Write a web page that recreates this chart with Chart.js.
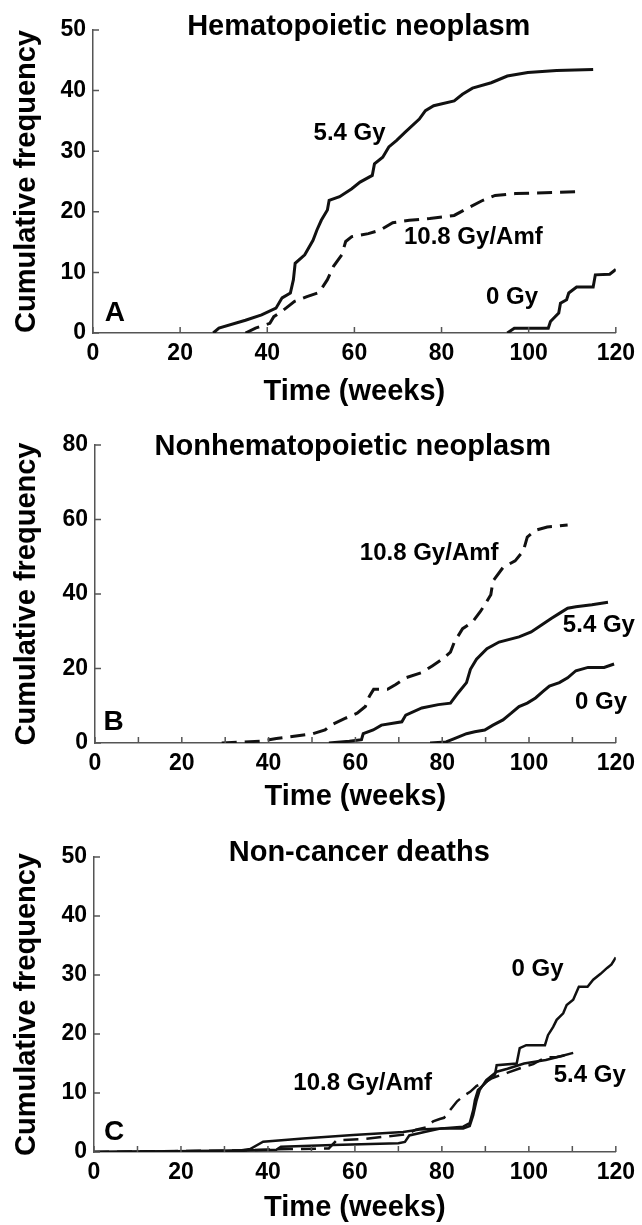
<!DOCTYPE html>
<html>
<head>
<meta charset="utf-8">
<title>Cumulative frequency</title>
<script src="https://cdn.jsdelivr.net/npm/chart.js@4.4.1/dist/chart.umd.min.js"></script>
<style>
  body { margin: 0; background: #fff; width: 642px; height: 1225px; position: relative; overflow: hidden; }
  canvas { position: absolute; left: 0; }
</style>
</head>
<body>
<canvas id="chartA" width="642" height="410" style="top:0px"></canvas>
<canvas id="chartB" width="642" height="410" style="top:410px"></canvas>
<canvas id="chartC" width="642" height="405" style="top:820px"></canvas>
<script>
// ---- data (weeks, cumulative frequency) ----

// A: Hematopoietic neoplasm
const weeksA54 = [27.6, 28.9, 35, 38.7, 42, 43.4, 45.3, 46, 46.4, 48.6, 50.5, 51.4, 52.4, 53.8, 54.2, 56.6, 59.4, 61.3, 64.1, 64.6, 66.5, 67.9, 69.7, 71.6, 74.9, 76.3, 78.2, 82.9, 84.8, 87.1, 91.4, 95.1, 99.8, 106.4, 114.8];
const freqA54  = [0, 0.8, 2.1, 3.0, 4.1, 5.8, 6.6, 8.8, 11.5, 12.9, 15.3, 17, 18.6, 20.3, 21.9, 22.5, 23.8, 24.9, 26, 27.9, 29, 30.7, 31.8, 33.1, 35.3, 36.7, 37.5, 38.3, 39.4, 40.4, 41.3, 42.4, 43, 43.3, 43.5];
const weeksA108 = [35, 37.3, 40.6, 41.5, 43.4, 44.8, 46.2, 49.1, 51.9, 53.8, 55.2, 57.1, 58, 59.4, 63.2, 66, 68.8, 72.6, 77.3, 82.9, 85.7, 89.5, 92.3, 97, 111.1];
const freqA108  = [0, 0.8, 1.6, 2.7, 3.6, 4.4, 5.2, 6, 6.7, 8.8, 11, 12.9, 15.1, 15.9, 16.4, 17, 18.2, 18.6, 18.9, 19.4, 20.5, 21.9, 22.7, 23, 23.3];
const weeksA0 = [95.1, 96.7, 104.5, 105, 106.9, 107.3, 108.7, 109.2, 111, 114.8, 115.3, 118.6, 120];
const freqA0  = [0, 0.8, 0.8, 1.9, 3.3, 4.9, 5.5, 6.6, 7.6, 7.6, 9.6, 9.7, 10.5];

// B: Nonhematopoietic neoplasm
const weeksB108 = [29.2, 38, 41.8, 50.2, 53, 54.3, 57.6, 60.4, 62.3, 63.2, 64.2, 67.4, 69.3, 71.6, 75.3, 77.7, 80, 81.9, 82.8, 84.7, 87, 88.8, 89.8, 91.2, 91.7, 94, 96.8, 98.7, 99.6, 101.5, 104.2, 108.9];
const freqB108  = [0, 0.5, 1.2, 2.5, 3.5, 4.8, 6.6, 8, 9.8, 12.5, 14.4, 14.4, 15.7, 17.5, 18.9, 20.7, 22.5, 24.4, 27.1, 30.7, 32.5, 35.3, 37.1, 39.8, 43.5, 47.1, 48.9, 51.6, 55.3, 57.1, 58, 58.5];
const weeksB54 = [53.9, 58.6, 61.4, 61.8, 64.1, 66, 70.7, 71.6, 75.3, 79.1, 81.9, 83.7, 85.6, 86.5, 87.9, 90.3, 93.1, 97.7, 100.5, 102.8, 105.2, 107, 108.9, 110.8, 114.5, 118.2];
const freqB54  = [0, 0.5, 0.9, 2.5, 3.5, 4.8, 5.7, 7.5, 9.4, 10.3, 10.7, 13.5, 16.2, 19.8, 22.5, 25.3, 27.1, 28.5, 29.8, 31.6, 33.5, 34.8, 36.2, 36.6, 37.1, 37.8];
const weeksB0 = [77.2, 80.9, 82.8, 85.6, 87.5, 89.8, 91.7, 94, 95.9, 97.7, 99.6, 101.5, 103.3, 104.7, 107, 108.9, 110.8, 113.6, 117.3, 119.6];
const freqB0  = [0, 0.3, 1.2, 2.5, 3, 3.5, 4.8, 6.2, 8, 9.8, 10.7, 12.1, 13.9, 15.3, 16.2, 17.5, 19.4, 20.3, 20.3, 21.2];

// C: Non-cancer deaths
const weeksC0 = [0, 34, 36, 42, 43, 55, 70, 71.5, 72.5, 76, 79.9, 84.9, 86.4, 87.2, 87.6, 88.3, 89.9, 91.4, 92.2, 92.6, 97.2, 97.9, 99.4, 103.7, 104.4, 105.6, 106.4, 107.9, 108.7, 110.2, 111.5, 113.5, 114.8, 116.5, 118, 119, 120];
const freqC0  = [0, 0.2, 0.3, 0.4, 0.9, 1.2, 1.5, 1.7, 2.8, 3.4, 4.0, 4.3, 4.9, 7.1, 8.8, 10.5, 11.6, 12.8, 13.1, 14.7, 15, 17.6, 18.1, 18.1, 19.8, 21.2, 22.4, 23.5, 24.9, 25.8, 28, 28, 29.2, 30.2, 31.2, 31.8, 33];
const weeksC54 = [0, 30, 34, 35.9, 38.9, 48.1, 59.6, 71.1, 74.9, 80, 84.9, 86.4, 87.2, 88, 88.7, 90.2, 92.6, 95.1, 98.9, 103.9, 107.1, 110.2];
const freqC54  = [0, 0.2, 0.3, 0.5, 1.75, 2.3, 2.9, 3.4, 3.8, 4.0, 4.0, 4.4, 6.2, 8.8, 10.5, 12.2, 13.6, 14.1, 15, 15.6, 16.2, 16.8];
const weeksC108 = [0, 35, 45, 54, 55.8, 62, 67, 72, 74, 76.5, 78, 79.5, 80.5, 82, 83.5, 85, 86.5, 88, 90, 91.5, 93, 95, 98, 101, 103.7, 106.4, 110];
const freqC108  = [0, 0.3, 0.5, 0.6, 2.0, 2.2, 2.6, 3.0, 3.8, 4.2, 5.2, 5.6, 5.8, 7.2, 8.6, 9.5, 10.2, 11.2, 11.8, 12.5, 12.9, 13.4, 14.2, 14.9, 16, 16.1, 16.6];

const FONT = "'Liberation Sans', Arial, sans-serif";
const AXIS_COLOR = '#555';

// inward tick marks, panel titles and curve labels
const panelDecor = {
    id: 'panelDecor',
    afterDraw(chart, args, opts) {
        const { ctx, scales: { x, y } } = chart;
        ctx.save();
        ctx.strokeStyle = AXIS_COLOR;
        ctx.lineWidth = 1.5;
        ctx.beginPath();
        x.ticks.forEach(t => {
            const px = x.getPixelForValue(t.value);
            ctx.moveTo(px, y.bottom);
            ctx.lineTo(px, y.bottom - 6);
        });
        y.ticks.forEach(t => {
            const py = y.getPixelForValue(t.value);
            ctx.moveTo(x.left, py);
            ctx.lineTo(x.left + 6, py);
        });
        ctx.stroke();

        ctx.fillStyle = '#000';
        ctx.textAlign = 'center';
        ctx.textBaseline = 'middle';
        opts.texts.forEach(t => {
            ctx.font = `bold ${t.size}px ${FONT}`;
            ctx.fillText(t.text, x.getPixelForValue(t.x), y.getPixelForValue(t.y));
        });
        ctx.restore();
    }
};

function makePanel(canvasId, p) {
    const ctx = document.getElementById(canvasId).getContext('2d');
    return new Chart(ctx, {
        type: 'line',
        data: {
            datasets: p.series.map(s => ({
                data: s.weeks.map((w, i) => ({ x: w, y: s.freq[i] })),
                borderColor: '#111',
                borderWidth: p.lineWidth,
                borderDash: s.dashed ? [15, 8] : [],
                pointRadius: 0,
                fill: false,
                tension: 0
            }))
        },
        options: {
            responsive: false,
            animation: false,
            layout: { padding: { top: p.padTop, right: p.padRight, left: 0, bottom: 0 } },
            plugins: {
                legend: { display: false },
                tooltip: { enabled: false },
                panelDecor: { texts: p.texts }
            },
            scales: {
                x: {
                    type: 'linear',
                    min: 0,
                    max: 120,
                    afterFit: s => { s.height = p.xHeight; },
                    grid: { drawOnChartArea: false, drawTicks: false },
                    border: { color: AXIS_COLOR, width: 1.5 },
                    ticks: {
                        stepSize: p.xStep,
                        autoSkip: false,
                        maxRotation: 0,
                        padding: 7,
                        color: '#000',
                        font: { family: FONT, size: 23, weight: 'bold' },
                        callback: v => (v % 20 === 0 ? v : '')
                    },
                    title: {
                        display: true,
                        text: 'Time (weeks)',
                        color: '#000',
                        font: { family: FONT, size: 29, weight: 'bold' },
                        padding: { top: 0, bottom: p.xTitlePad }
                    }
                },
                y: {
                    min: 0,
                    max: p.yMax,
                    afterFit: s => { s.width = p.yWidth; },
                    grid: { drawOnChartArea: false, drawTicks: false },
                    border: { color: AXIS_COLOR, width: 1.5 },
                    ticks: {
                        stepSize: p.yStep,
                        padding: 7,
                        color: '#000',
                        font: { family: FONT, size: 23, weight: 'bold' }
                    },
                    title: {
                        display: true,
                        text: 'Cumulative frequency',
                        color: '#000',
                        font: { family: FONT, size: 29, weight: 'bold' },
                        padding: { top: 10, bottom: 0 }
                    }
                }
            }
        },
        plugins: [panelDecor]
    });
}

makePanel('chartA', {
    yMax: 50, yStep: 10, xStep: 20,
    padTop: 30, padRight: 25, yWidth: 93, xHeight: 77, xTitlePad: 1,
    lineWidth: 3,
    series: [
        { weeks: weeksA54, freq: freqA54 },
        { weeks: weeksA108, freq: freqA108, dashed: true },
        { weeks: weeksA0, freq: freqA0 }
    ],
    texts: [
        { text: 'Hematopoietic neoplasm', x: 61, y: 50.5, size: 29 },
        { text: '5.4 Gy', x: 58.9, y: 33, size: 24 },
        { text: '10.8 Gy/Amf', x: 87.3, y: 15.7, size: 24 },
        { text: '0 Gy', x: 96.2, y: 5.8, size: 24 },
        { text: 'A', x: 5, y: 3.3, size: 28 }
    ]
});

makePanel('chartB', {
    yMax: 80, yStep: 20, xStep: 10,
    padTop: 35, padRight: 20, yWidth: 95, xHeight: 77, xTitlePad: 6,
    lineWidth: 3,
    series: [
        { weeks: weeksB108, freq: freqB108, dashed: true },
        { weeks: weeksB54, freq: freqB54 },
        { weeks: weeksB0, freq: freqB0 }
    ],
    texts: [
        { text: 'Nonhematopoietic neoplasm', x: 59.4, y: 79.5, size: 29 },
        { text: '10.8 Gy/Amf', x: 77, y: 51, size: 24 },
        { text: '5.4 Gy', x: 116.1, y: 31.7, size: 24 },
        { text: '0 Gy', x: 116.6, y: 11, size: 24 },
        { text: 'B', x: 4.3, y: 5.6, size: 28 }
    ]
});

makePanel('chartC', {
    yMax: 50, yStep: 10, xStep: 10,
    padTop: 37, padRight: 26, yWidth: 94, xHeight: 73, xTitlePad: 0,
    lineWidth: 2.5,
    series: [
        { weeks: weeksC0, freq: freqC0 },
        { weeks: weeksC54, freq: freqC54 },
        { weeks: weeksC108, freq: freqC108, dashed: true }
    ],
    texts: [
        { text: 'Non-cancer deaths', x: 61, y: 50.7, size: 29 },
        { text: '0 Gy', x: 102, y: 31, size: 24 },
        { text: '5.4 Gy', x: 114, y: 13, size: 24 },
        { text: '10.8 Gy/Amf', x: 61.8, y: 11.7, size: 24 },
        { text: 'C', x: 4.6, y: 3.4, size: 28 }
    ]
});
</script>
</body>
</html>
